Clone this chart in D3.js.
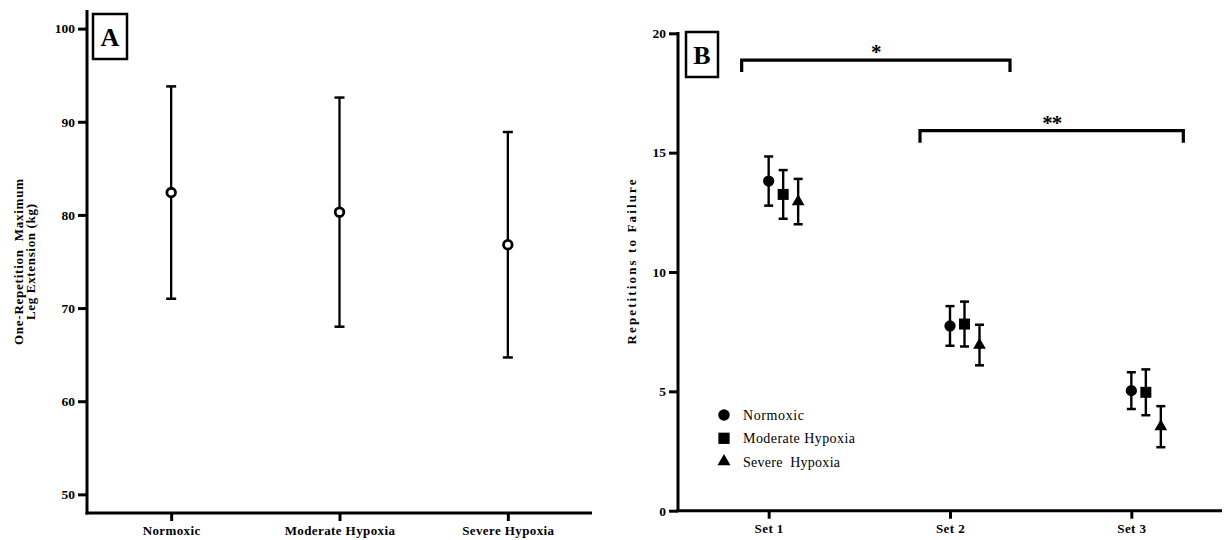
<!DOCTYPE html>
<html>
<head>
<meta charset="utf-8">
<script src="https://cdn.jsdelivr.net/npm/d3@7"></script>
<style>
  body { margin: 0; background: #fff; }
  svg text { font-family: "Liberation Serif", "Times New Roman", serif; fill: #000; white-space: pre; }
</style>
</head>
<body>
<svg id="chart" width="1225" height="540"></svg>
<script>
// Panel A: one-repetition maximum, mean ± SD per condition
const groupsA = ["Normoxic", "Moderate Hypoxia", "Severe Hypoxia"];
const meanA = [82.4, 80.3, 76.8];
const sdA = [11.4, 12.3, 12.1];
const ticksA = [50, 60, 70, 80, 90, 100];

// Panel B: repetitions to failure per set, mean ± SD per condition
const sets = ["Set 1", "Set 2", "Set 3"];
const seriesB = ["Normoxic", "Moderate Hypoxia", "Severe  Hypoxia"];
const normoxicB = [13.81, 7.74, 5.03];
const normoxicSdB = [1.03, 0.83, 0.77];
const moderateB = [13.25, 7.82, 4.96];
const moderateSdB = [1.02, 0.94, 0.96];
const severeB = [12.95, 6.94, 3.52];
const severeSdB = [0.95, 0.85, 0.86];
const ticksB = [0, 5, 10, 15, 20];

// significance brackets between sets
const bracketFrom = ["Set 1", "Set 2"];
const bracketTo = ["Set 2", "Set 3"];
const bracketLabels = ["*", "**"];

const svg = d3.select("#chart");

function styleAxis(g, fontSize, spacing) {
  g.selectAll("path.domain").attr("stroke", "#000").attr("stroke-width", 3);
  g.selectAll(".tick line").attr("stroke", "#000").attr("stroke-width", 3);
  g.selectAll(".tick text")
    .attr("font-family", "Liberation Serif, serif")
    .attr("font-weight", "bold")
    .attr("font-size", fontSize)
    .attr("letter-spacing", spacing)
    .attr("fill", "#000");
}

function panelLabel(x, y, w, h, letter) {
  svg.append("rect").attr("x", x).attr("y", y).attr("width", w).attr("height", h)
    .attr("fill", "#fff").attr("stroke", "#000").attr("stroke-width", 2.5);
  svg.append("text").attr("x", x + w / 2).attr("y", y + h / 2 + 9)
    .attr("text-anchor", "middle").attr("font-weight", "bold").attr("font-size", 26)
    .text(letter);
}

/* ---------- Panel A ---------- */
const xA = d3.scalePoint().domain(groupsA).range([87, 592]).padding(0.5);
const yA = d3.scaleLinear().domain([48, 102]).range([513, 10]);

const gAy = svg.append("g").attr("transform", "translate(87,0)")
  .call(d3.axisLeft(yA).tickValues(ticksA).tickSize(9).tickSizeOuter(0).tickPadding(3));
styleAxis(gAy, 13.5, 0);
const gAx = svg.append("g").attr("transform", "translate(0,513)")
  .call(d3.axisBottom(xA).tickSize(8).tickSizeOuter(0).tickPadding(5));
styleAxis(gAx, 13, 0.4);
gAx.select("path.domain").attr("d", "M85.5,0H592");
gAy.select("path.domain").attr("d", "M0,514.5V10");

const ptsA = groupsA.map((g, i) => ({ g, m: meanA[i], sd: sdA[i] }));
const gA = svg.append("g");
gA.selectAll("line.err").data(ptsA).join("line")
  .attr("x1", d => xA(d.g)).attr("x2", d => xA(d.g))
  .attr("y1", d => yA(d.m + d.sd)).attr("y2", d => yA(d.m - d.sd))
  .attr("stroke", "#000").attr("stroke-width", 2.3);
[1, -1].forEach(s => {
  gA.selectAll(null).data(ptsA).join("line")
    .attr("x1", d => xA(d.g) - 5).attr("x2", d => xA(d.g) + 5)
    .attr("y1", d => yA(d.m + s * d.sd)).attr("y2", d => yA(d.m + s * d.sd))
    .attr("stroke", "#000").attr("stroke-width", 2.5);
});
gA.selectAll("circle").data(ptsA).join("circle")
  .attr("cx", d => xA(d.g)).attr("cy", d => yA(d.m)).attr("r", 4.3)
  .attr("fill", "#fff").attr("stroke", "#000").attr("stroke-width", 2.8);

svg.append("text").attr("transform", "translate(23,262) rotate(-90)")
  .attr("text-anchor", "middle").attr("font-weight", "bold").attr("font-size", 13)
  .attr("textLength", 166).attr("lengthAdjust", "spacing")
  .text("One-Repetition  Maximum");
svg.append("text").attr("transform", "translate(35,262) rotate(-90)")
  .attr("text-anchor", "middle").attr("font-weight", "bold").attr("font-size", 13)
  .attr("textLength", 116).attr("lengthAdjust", "spacing")
  .text("Leg Extension (kg)");

panelLabel(93, 14, 34, 45, "A");

/* ---------- Panel B ---------- */
const xB = d3.scalePoint().domain(sets).range([678, 1222]).padding(0.5);
const yB = d3.scaleLinear().domain([0, 20]).range([510.7, 33.3]);
const offsets = [0, 14.5, 29.5];

const gBy = svg.append("g").attr("transform", "translate(678,0)")
  .call(d3.axisLeft(yB).tickValues(ticksB).tickSize(9).tickSizeOuter(0).tickPadding(3));
styleAxis(gBy, 13.5, 0);
const gBx = svg.append("g").attr("transform", "translate(0,510.7)")
  .call(d3.axisBottom(xB).tickSize(8).tickSizeOuter(0).tickPadding(5));
styleAxis(gBx, 13, 0.4);
gBx.select("path.domain").attr("d", "M676.5,0H1222");
gBy.select("path.domain").attr("d", "M0,512V32");

const symbols = [d3.symbolCircle, d3.symbolSquare, d3.symbolTriangle];
const symSizes = [100, 121, 70];
const means = [normoxicB, moderateB, severeB];
const sds = [normoxicSdB, moderateSdB, severeSdB];

const ptsB = [];
means.forEach((arr, si) => arr.forEach((m, k) => {
  ptsB.push({ si, set: sets[k], m, sd: sds[si][k] });
}));
const px = d => xB(d.set) + offsets[d.si];

const gB = svg.append("g");
gB.selectAll("line.err").data(ptsB).join("line")
  .attr("x1", px).attr("x2", px)
  .attr("y1", d => yB(d.m + d.sd)).attr("y2", d => yB(d.m - d.sd))
  .attr("stroke", "#000").attr("stroke-width", 2.4);
[1, -1].forEach(s => {
  gB.selectAll(null).data(ptsB).join("line")
    .attr("x1", d => px(d) - 4.5).attr("x2", d => px(d) + 4.5)
    .attr("y1", d => yB(d.m + s * d.sd)).attr("y2", d => yB(d.m + s * d.sd))
    .attr("stroke", "#000").attr("stroke-width", 2.5);
});
gB.selectAll("path.mark").data(ptsB).join("path")
  .attr("transform", d => `translate(${px(d)},${yB(d.m)})`)
  .attr("d", d => d3.symbol(symbols[d.si], symSizes[d.si])())
  .attr("fill", "#000");

// significance brackets
const bracketLevels = [18.88, 15.92];
const bracketPad = [[-27, 60], [-30, 52]];
bracketLabels.forEach((lab, i) => {
  const x1 = xB(bracketFrom[i]) + bracketPad[i][0];
  const x2 = xB(bracketTo[i]) + bracketPad[i][1];
  const y = yB(bracketLevels[i]);
  svg.append("path")
    .attr("d", `M${x1},${y + 12}V${y}H${x2}V${y + 12}`)
    .attr("fill", "none").attr("stroke", "#000").attr("stroke-width", 3.2);
  svg.append("text").attr("x", (x1 + x2) / 2).attr("y", y - 1)
    .attr("text-anchor", "middle").attr("font-weight", "bold").attr("font-size", 21)
    .attr("letter-spacing", -1)
    .text(lab);
});

svg.append("text").attr("transform", "translate(636,262) rotate(-90)")
  .attr("text-anchor", "middle").attr("font-weight", "bold").attr("font-size", 13)
  .attr("textLength", 165).attr("lengthAdjust", "spacing")
  .text("Repetitions to Failure");

panelLabel(686, 32, 32, 45, "B");

// legend
const legendLens = [61, 112, 97];
const leg = svg.append("g");
seriesB.forEach((name, i) => {
  const y = 415 + i * 23.3;
  leg.append("path").attr("transform", `translate(724,${y})`)
    .attr("d", d3.symbol(symbols[i], symSizes[i] * 1.05)()).attr("fill", "#000");
  leg.append("text").attr("x", 743).attr("y", y + 5)
    .attr("font-size", 14).attr("textLength", legendLens[i]).attr("lengthAdjust", "spacing")
    .text(name);
});
</script>
</body>
</html>
